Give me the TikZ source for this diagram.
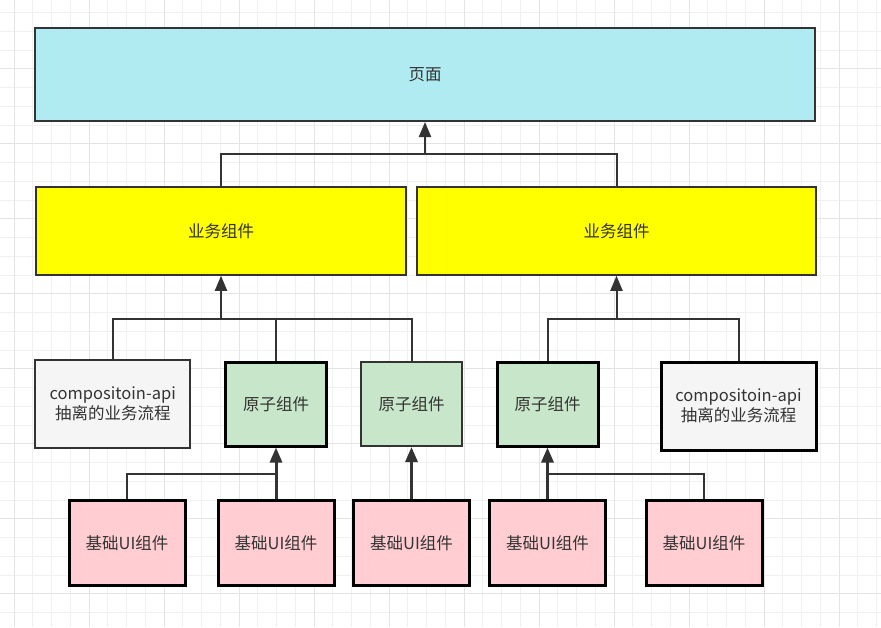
\documentclass[tikz,border=0pt]{standalone}
\usepackage{fontspec}
\setmainfont{Noto Sans CJK SC}
\usepackage{tikz}
\usetikzlibrary{arrows.meta, positioning}
\definecolor{PageCyan}{HTML}{B1EBF2}
\definecolor{BizYellow}{HTML}{FFFF00}
\definecolor{AtomGreen}{HTML}{C8E6C9}
\definecolor{BasePink}{HTML}{FFCDD2}
\definecolor{FlowGray}{HTML}{F5F5F5}
\definecolor{EdgeDark}{HTML}{333333}
\definecolor{GridMinor}{HTML}{F0F0F0}
\definecolor{GridMajor}{HTML}{E4E4E4}
\tikzset{
  box/.style={rectangle, draw=EdgeDark, line width=2pt, inner sep=0pt, text=EdgeDark, font=\fontsize{16.5}{20}\selectfont, align=center},
  pagebox/.style={box, fill=PageCyan, minimum width=780pt, minimum height=93pt},
  bizbox/.style={box, fill=BizYellow, minimum height=87.5pt},
  flowbox/.style={box, fill=FlowGray, minimum width=155pt, minimum height=88pt},
  atombox/.style={box, fill=AtomGreen, minimum width=101pt, minimum height=84pt},
  basebox/.style={box, fill=BasePink, draw=black, line width=3pt, minimum width=116pt, minimum height=85pt},
  heavy/.style={draw=black, line width=3pt},
  link/.style={draw=EdgeDark, line width=2pt},
  arrow/.style={link, -{Triangle[length=15pt, width=12pt]}}
}
\begin{document}
\begin{tikzpicture}[x=1pt, y=-1pt]
  \useasboundingbox (0,0) rectangle (881,627);
  \fill[white] (0,0) rectangle (881,627);
  % grid
  \foreach \x in {14,32.75,...,881} \draw[GridMinor, line width=1pt] (\x,0) -- (\x,627);
  \foreach \y in {12.5,31.25,...,627} \draw[GridMinor, line width=1pt] (0,\y) -- (881,\y);
  \foreach \x in {14,89,...,881} \draw[GridMajor, line width=1pt] (\x,0) -- (\x,627);
  \foreach \y in {68.75,143.75,...,627} \draw[GridMajor, line width=1pt] (0,\y) -- (881,\y);

  \node[pagebox] (page) at (425,74.5) {页面};
  \node[bizbox, minimum width=370pt] (bizL) at (221,231) {业务组件};
  \node[bizbox, minimum width=399pt] (bizR) at (616.5,231) {业务组件};

  \node[flowbox] (flowL) at (112.75,404) {compositoin-api\\抽离的业务流程};
  \node[atombox, heavy] (atomA) at (276,404) {原子组件};
  \node[atombox] (atomB) at (411.5,404) {原子组件};
  \node[atombox, heavy] (atomC) at (547.5,404) {原子组件};
  \node[flowbox, heavy] (flowR) at (738.5,406) {compositoin-api\\抽离的业务流程};

  \node[basebox] (baseA) at (127,543) {基础UI组件};
  \node[basebox] (baseB) at (276,543) {基础UI组件};
  \node[basebox] (baseC) at (411.5,543) {基础UI组件};
  \node[basebox] (baseD) at (547.5,543) {基础UI组件};
  \node[basebox] (baseE) at (704,543) {基础UI组件};

  \coordinate (joinTop) at (425,154);
  \coordinate (joinL) at (221,319);
  \coordinate (joinR) at (616.5,319);
  \coordinate (joinBL) at (276,474);
  \coordinate (joinBR) at (547.5,474);

  \draw[link] (bizL.north) |- (joinTop) -| (bizR.north);
  \draw[arrow] (joinTop) -- (page.south);

  \draw[link] (flowL.north) |- (joinL) -| (atomB.north);
  \draw[link] (atomA.north) -- (atomA.north |- joinL);
  \draw[arrow] (joinL) -- (bizL.south);

  \draw[link] (atomC.north) |- (joinR) -| (flowR.north);
  \draw[arrow] (joinR) -- (bizR.south);

  \draw[link] (baseA.north) |- (joinBL);
  \draw[arrow, line width=3pt] (baseB.north) -- (atomA.south);
  \draw[arrow, line width=3pt] (baseC.north) -- (atomB.south);
  \draw[link] (baseE.north) |- (joinBR);
  \draw[arrow, line width=3pt] (baseD.north) -- (atomC.south);
\end{tikzpicture}
\end{document}
